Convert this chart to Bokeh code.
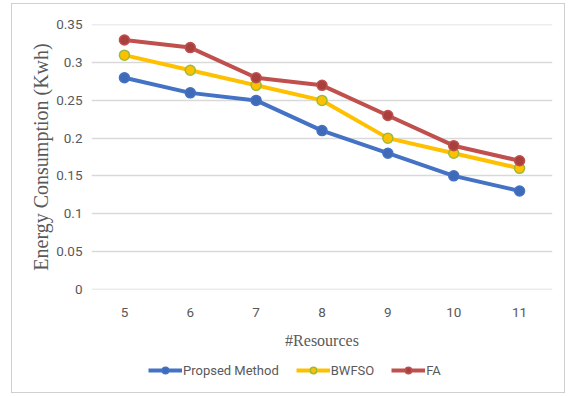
from bokeh.plotting import figure
from bokeh.layouts import column
from bokeh.models import FactorRange, Range1d, FixedTicker, Legend, LegendItem
from bokeh.embed import file_html
from bokeh.resources import INLINE

# Number of resources on the x axis
resources = ["5", "6", "7", "8", "9", "10", "11"]

# Energy consumption (Kwh) per method
proposed = [0.28, 0.26, 0.25, 0.21, 0.18, 0.15, 0.13]
bwfso = [0.31, 0.29, 0.27, 0.25, 0.20, 0.18, 0.16]
fa = [0.33, 0.32, 0.28, 0.27, 0.23, 0.19, 0.17]

y_ticks = [0, 0.05, 0.1, 0.15, 0.2, 0.25, 0.3, 0.35]
y_labels = ["0", "0.05", "0.1", "0.15", "0.2", "0.25", "0.3", "0.35"]

series = [
    ("Propsed Method", proposed, "#4472C4", "#3F6AB8", "#4472C4"),
    ("BWFSO", bwfso, "#FFC000", "#FFC000", "#9BBB3A"),
    ("FA", fa, "#C0504D", "#A8403D", "#C0504D"),
]

# main chart with a fixed plotting area
p = figure(frame_width=461, frame_height=265,
           output_backend="svg", toolbar_location=None,
           x_range=FactorRange(*resources, range_padding=0),
           y_range=Range1d(-0.0006, 0.3506),
           min_border_left=79, min_border_right=12,
           min_border_top=20, min_border_bottom=66)
p.outline_line_color = None
p.background_fill_color = "white"
p.border_fill_color = "white"

p.xgrid.grid_line_color = None
p.ygrid.grid_line_color = "#D9D9D9"
p.ygrid.grid_line_width = 1.3

p.yaxis.ticker = FixedTicker(ticks=y_ticks)
p.yaxis.major_label_overrides = dict(zip(y_ticks, y_labels))

for ax in (p.xaxis[0], p.yaxis[0]):
    ax.axis_line_color = None
    ax.major_tick_line_color = None
    ax.minor_tick_line_color = None
    ax.major_tick_in = 0
    ax.major_tick_out = 0
    ax.major_label_text_font = "Roboto"
    ax.major_label_text_font_size = "13.5px"
    ax.major_label_text_color = "#595959"
    ax.axis_label_text_font = "Liberation Serif"
    ax.axis_label_text_font_style = "normal"
    ax.axis_label_text_color = "#595959"

p.xaxis.major_label_standoff = 18
p.xaxis.axis_label = "#Resources"
p.xaxis.axis_label_text_font_size = "16px"
p.xaxis.axis_label_standoff = 12

p.yaxis.major_label_standoff = 9
p.yaxis.axis_label = "Energy Consumption (Kwh)"
p.yaxis.axis_label_text_font_size = "20px"
p.yaxis.axis_label_standoff = 1

# legend strip underneath the chart; its y range lies above the data,
# so only the legend swatches of these renderers show
leg = figure(width=552, height=37, output_backend="svg", toolbar_location=None,
             x_axis_location=None, y_axis_location=None,
             x_range=FactorRange(*resources), y_range=Range1d(10, 11),
             min_border=0)
leg.outline_line_color = None
leg.xgrid.grid_line_color = None
leg.ygrid.grid_line_color = None
leg.border_fill_color = "white"
leg.background_fill_color = "white"

items = []
for name, vals, color, mfill, mline in series:
    p.line(resources, vals, line_color=color, line_width=4)
    p.scatter(resources, vals, size=10, fill_color=mfill,
              line_color=mline, line_width=1.5)
    ln = leg.line(resources, vals, line_color=color, line_width=4)
    sc = leg.scatter(resources, vals, size=10, fill_color=mfill,
                     line_color=mline, line_width=1.5)
    items.append(LegendItem(label=name, renderers=[ln, sc]))

legend = Legend(items=items, orientation="horizontal", location=(57, 14),
                glyph_width=34, glyph_height=16, label_standoff=1,
                spacing=17, padding=0, margin=0,
                label_text_font="Roboto", label_text_font_size="13px",
                label_text_color="#595959",
                border_line_color=None, background_fill_alpha=0)
leg.add_layout(legend, "center")

page = column(p, leg, spacing=0,
              styles={"margin-left": "12px", "margin-top": "4px",
                      "outline": "1px solid #D0D0D0"})

open("out.html", "w").write(file_html(page, INLINE))
